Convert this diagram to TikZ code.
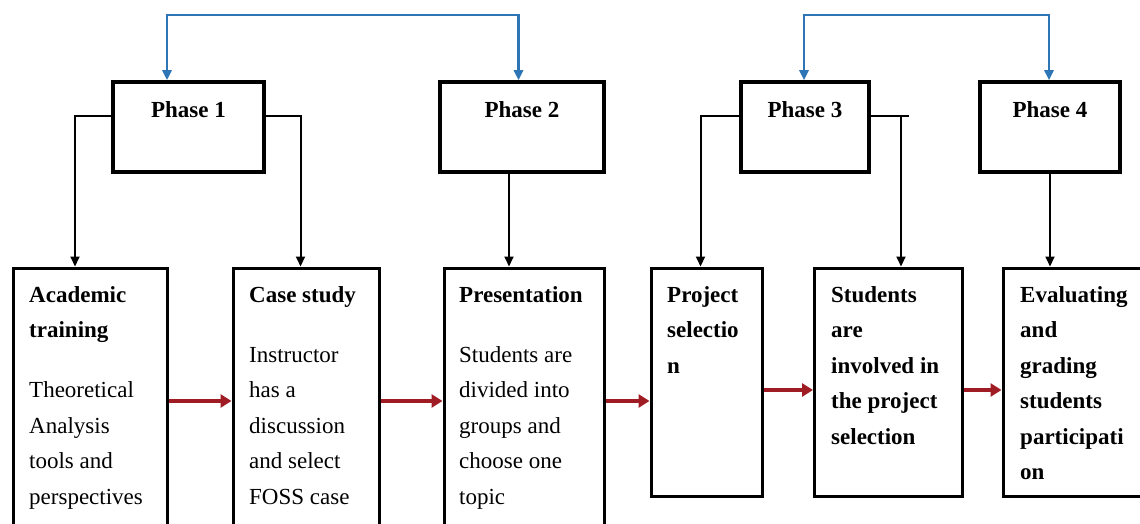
\documentclass[tikz,border=0pt]{standalone}
\usepackage{fontspec}
\setmainfont{Liberation Serif}
\usetikzlibrary{arrows.meta,calc}
\definecolor{bluearr}{HTML}{2E75B6}
\definecolor{redarr}{HTML}{A01C24}
\newcommand{\boxtext}[1]{\parbox[t]{150pt}{\raggedright #1}}
\begin{document}
\begin{tikzpicture}[x=1pt,y=-1pt,
  phasebox/.style={draw, line width=3.5pt, minimum height=90pt, inner sep=0pt},
  stagebox/.style={draw, line width=3pt, inner sep=0pt},
  ptext/.style={font=\fontsize{23}{28}\selectfont\bfseries, inner sep=0pt, anchor=base},
  btext/.style={font=\fontsize{23}{35.5}\selectfont, inner sep=0pt, anchor=base west},
  conn/.style={line width=2pt, -{Triangle[length=10pt,width=9pt]}},
  plain/.style={line width=2pt},
  bluelink/.style={draw=bluearr, line width=2.6pt, {Triangle[length=10pt,width=9pt]}-{Triangle[length=10pt,width=9pt]}},
  redlink/.style={draw=redarr, line width=4pt, -{Triangle[length=11pt,width=13pt]}}]
\useasboundingbox (0,0) rectangle (1140,524);
\clip (0,0) rectangle (1140,524);

% phase boxes
\node[phasebox, minimum width=151pt] (p1) at (188.5,127) {};
\node[phasebox, minimum width=164pt] (p2) at (522,127) {};
\node[phasebox, minimum width=128pt] (p3) at (805,127) {};
\node[phasebox, minimum width=140pt] (p4) at (1050,127) {};
\node[ptext] (p1t) at (188.5,118) {Phase 1};
\node[ptext] (p2t) at (522,118) {Phase 2};
\node[ptext] (p3t) at (805,118) {Phase 3};
\node[ptext] (p4t) at (1050,118) {Phase 4};

% stage boxes
\node[stagebox, minimum width=154pt, minimum height=300pt] (b1) at (90,418) {};
\node[stagebox, minimum width=146pt, minimum height=300pt] (b2) at (306,418) {};
\node[stagebox, minimum width=160pt, minimum height=300pt] (b3) at (524,418) {};
\node[stagebox, minimum width=111pt, minimum height=228pt] (b4) at (706.5,382) {};
\node[stagebox, minimum width=148pt, minimum height=228pt] (b5) at (888.5,382) {};
\node[stagebox, minimum width=140pt, minimum height=228pt] (b6) at (1073,382) {};

% stage texts
\node[btext] (t1) at (29,302) {\boxtext{\textbf{Academic}\\\textbf{training}\\[24.5pt]Theoretical\\Analysis\\tools and\\perspectives}};
\node[btext] (t2) at (249,302) {\boxtext{\textbf{Case study}\\[24.5pt]Instructor\\has a\\discussion\\and select\\FOSS case}};
\node[btext] (t3) at (459,302) {\boxtext{\textbf{Presentation}\\[24.5pt]Students are\\divided into\\groups and\\choose one\\topic}};
\node[btext] (t4) at (667,302) {\boxtext{\textbf{Project}\\\textbf{selectio}\\\textbf{n}}};
\node[btext] (t5) at (831,302) {\boxtext{\textbf{Students}\\\textbf{are}\\\textbf{involved in}\\\textbf{the project}\\\textbf{selection}}};
\node[btext] (t6) at (1020,302) {\boxtext{\textbf{Evaluating}\\\textbf{and}\\\textbf{grading}\\\textbf{students}\\\textbf{participati}\\\textbf{on}}};

% blue links between phases
\coordinate (u1) at (167,15);
\coordinate (u2) at (804,15);
\draw[bluelink] ([xshift=-21.5pt]p1.north) |- (u1) -| ([xshift=-3.5pt]p2.north);
\draw[bluelink] ([xshift=-1pt]p3.north) |- (u2) -| ([xshift=-1pt]p4.north);

% black connectors
\coordinate (l1) at (0,116);
\draw[conn] (p1.west |- l1) -| ([xshift=63.5pt]b1.north west);
\draw[conn] (p1.east |- l1) -| ([xshift=69pt]b2.north west);
\draw[conn] ([xshift=-13pt]p2.south) -- ([xshift=-13pt]p2.south |- b3.north);
\draw[conn] (p3.west |- l1) -| ([xshift=51pt]b4.north west);
\coordinate (r3) at (909,116);
\coordinate (r3d) at (901,116);
\draw[plain] (p3.east |- r3) -- (r3);
\draw[conn] (r3d) -- (r3d |- b5.north);
\draw[conn] (p4.south) -- (p4.south |- b6.north);

% red flow arrows
\draw[redlink] ([yshift=17pt]b1.east) -- ([yshift=17pt]b2.west);
\draw[redlink] ([yshift=17pt]b2.east) -- ([yshift=17pt]b3.west);
\draw[redlink] ([yshift=17pt]b3.east) -- ([yshift=-19pt]b4.west);
\draw[redlink] ([yshift=-8pt]b4.east) -- ([yshift=-8pt]b5.west);
\draw[redlink] ([yshift=-8pt]b5.east) -- ([yshift=-8pt]b6.west);
\end{tikzpicture}
\end{document}
